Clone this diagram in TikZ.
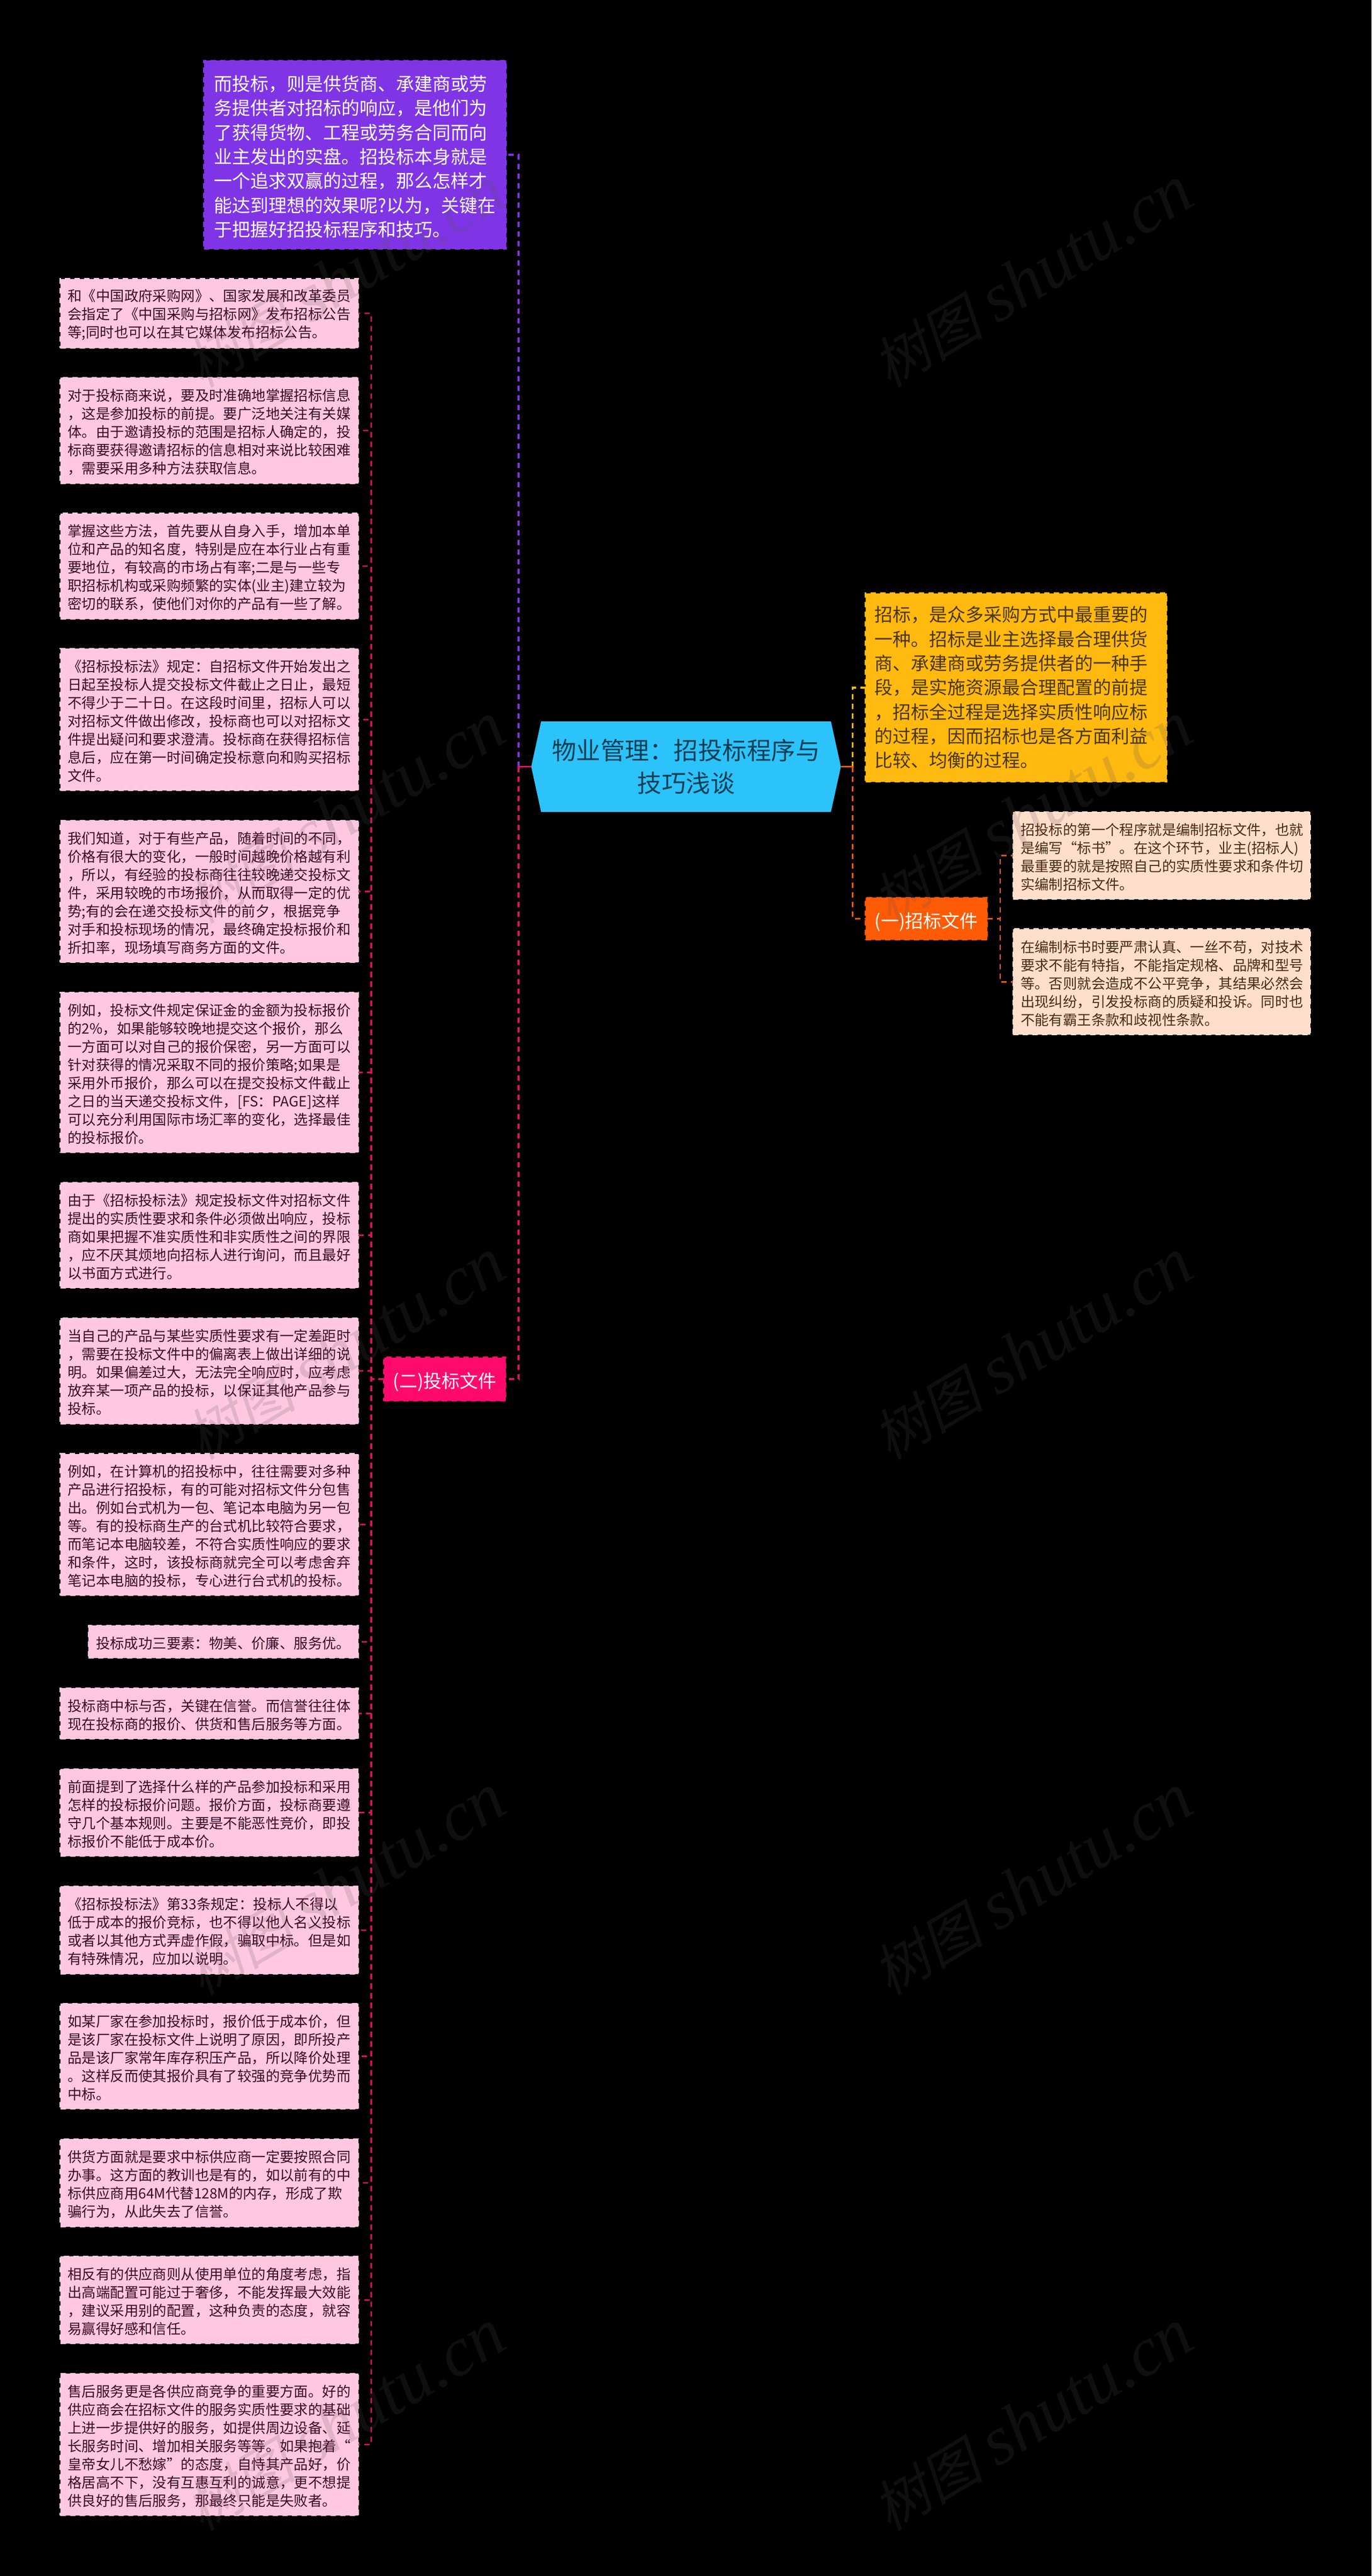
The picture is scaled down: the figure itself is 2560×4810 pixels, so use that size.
\documentclass[tikz,border=0pt]{standalone}
\usepackage{fontspec}
\setmainfont{Noto Sans CJK SC}
\newfontfamily\wmcjk[FakeSlant=0.22]{Noto Sans CJK SC}
\newfontfamily\wmlat{Liberation Serif}[ItalicFont={Liberation Serif Italic}]
\definecolor{cPurple}{HTML}{7F35E6}
\definecolor{cPink}{HTML}{FFC8E0}
\definecolor{cPinkTxt}{HTML}{3D0A24}
\definecolor{cMag}{HTML}{FF0A6C}
\definecolor{cLine}{HTML}{E0125F}
\definecolor{cYel}{HTML}{FFB90F}
\definecolor{cYelTxt}{HTML}{4A3600}
\definecolor{cOra}{HTML}{FF5A05}
\definecolor{cOraL}{HTML}{EE5A12}
\definecolor{cCream}{HTML}{FFDFCC}
\definecolor{cCreamTxt}{HTML}{4D2A14}
\definecolor{cBlue}{HTML}{2CC3FA}
\definecolor{cBlueTxt}{HTML}{0C3F55}
\tikzset{
  x=1pt,y=-1pt,
  box/.style={rectangle,outer sep=0pt,inner ysep=0pt,line width=2.2pt,dash pattern=on 10pt off 8pt,align=left},
  small/.style={box,font=\fontsize{26.4}{34}\selectfont,execute at begin node={\rule{0pt}{28pt}}},
  large/.style={box,font=\fontsize{34}{45.3}\selectfont},
  pinkbox/.style={small,fill=cPink,draw=cPink,text=cPinkTxt},
  creambox/.style={small,fill=cCream,draw=cCream,text=cCreamTxt},
  purplebox/.style={large,fill=cPurple,draw=cPurple,text=white,execute at begin node={\rule{0pt}{36pt}}},
  yellowbox/.style={large,fill=cYel,draw=cYel,text=cYelTxt},
  magbox/.style={large,fill=cMag,draw=cMag,text=white,align=center,execute at begin node={\rule{0pt}{40pt}}},
  orabox/.style={large,fill=cOra,draw=cOra,text=white,align=center,execute at begin node={\rule{0pt}{40pt}}},
  hubtext/.style={rectangle,outer sep=0pt,inner sep=0pt,align=center,text=cBlueTxt,font=\fontsize{45.5}{60.5}\selectfont},
  conn/.style={line width=2.6pt,dash pattern=on 10pt off 8pt},
  bigconn/.style={line width=3.6pt,dash pattern=on 10pt off 8pt},
  hubstub/.style={line width=3.8pt},
  mark text/.style={rotate=31,inner sep=0pt,text=black!67,text opacity=.18},
}
% style, name, left, top, right, bottom, pad, text
\newcommand\BX[8]{%
  \pgfmathsetmacro\cxv{(#3+#5)/2}\pgfmathsetmacro\cyv{(#4+#6)/2}%
  \pgfmathsetmacro\wv{#5-#3}\pgfmathsetmacro\hv{#6-#4}\pgfmathsetmacro\tv{#5-#3-2*#7}%
  \node[#1,minimum width=\wv pt,minimum height=\hv pt,text width=\tv pt,inner xsep=#7 pt] (#2) at (\cxv,\cyv) {#8};%
}
\begin{document}
\begin{tikzpicture}
\fill[black] (0,0) rectangle (2560,4810);
\useasboundingbox (0,0) rectangle (2560,4810);

% hub
\fill[cBlue] (991.6,1431.5) -- (1010,1347) -- (1551,1347) -- (1569.6,1431.5) -- (1551,1516) -- (1010,1516) -- cycle;
\node[hubtext,minimum width=578pt,minimum height=169pt] (hub) at (1280.6,1431.5) {物业管理：招投标程序与\\技巧浅谈};

\BX{purplebox}{intro}{380.5}{112.7}{944.5}{465}{18.5}{而投标，则是供货商、承建商或劳\\务提供者对招标的响应，是他们为\\了获得货物、工程或劳务合同而向\\业主发出的实盘。招投标本身就是\\一个追求双赢的过程，那么怎样才\\能达到理想的效果呢?以为，关键在\\于把握好招投标程序和技巧。}

\BX{pinkbox}{p1}{112.5}{520.5}{669}{649.6}{14}{和《中国政府采购网》、国家发展和改革委员\\会指定了《中国采购与招标网》发布招标公告\\等;同时也可以在其它媒体发布招标公告。}
\BX{pinkbox}{p2}{112.5}{705}{669}{902.7}{14}{对于投标商来说，要及时准确地掌握招标信息\\，这是参加投标的前提。要广泛地关注有关媒\\体。由于邀请投标的范围是招标人确定的，投\\标商要获得邀请招标的信息相对来说比较困难\\，需要采用多种方法获取信息。}
\BX{pinkbox}{p3}{112.5}{958.5}{669}{1155.8}{14}{掌握这些方法，首先要从自身入手，增加本单\\位和产品的知名度，特别是应在本行业占有重\\要地位，有较高的市场占有率;二是与一些专\\职招标机构或采购频繁的实体(业主)建立较为\\密切的联系，使他们对你的产品有一些了解。}
\BX{pinkbox}{p4}{112.5}{1211.4}{669}{1476}{14}{《招标投标法》规定：自招标文件开始发出之\\日起至投标人提交投标文件截止之日止，最短\\不得少于二十日。在这段时间里，招标人可以\\对招标文件做出修改，投标商也可以对招标文\\件提出疑问和要求澄清。投标商在获得招标信\\息后，应在第一时间确定投标意向和购买招标\\文件。}
\BX{pinkbox}{p5}{112.5}{1532}{669}{1797}{14}{我们知道，对于有些产品，随着时间的不同，\\价格有很大的变化，一般时间越晚价格越有利\\，所以，有经验的投标商往往较晚递交投标文\\件，采用较晚的市场报价，从而取得一定的优\\势;有的会在递交投标文件的前夕，根据竞争\\对手和投标现场的情况，最终确定投标报价和\\折扣率，现场填写商务方面的文件。}
\BX{pinkbox}{p6}{112.5}{1853}{669}{2152}{14}{例如，投标文件规定保证金的金额为投标报价\\的2\%，如果能够较晚地提交这个报价，那么\\一方面可以对自己的报价保密，另一方面可以\\针对获得的情况采取不同的报价策略;如果是\\采用外币报价，那么可以在提交投标文件截止\\之日的当天递交投标文件，[FS：PAGE]这样\\可以充分利用国际市场汇率的变化，选择最佳\\的投标报价。}
\BX{pinkbox}{p7}{112.5}{2208}{669}{2405}{14}{由于《招标投标法》规定投标文件对招标文件\\提出的实质性要求和条件必须做出响应，投标\\商如果把握不准实质性和非实质性之间的界限\\，应不厌其烦地向招标人进行询问，而且最好\\以书面方式进行。}
\BX{pinkbox}{p8}{112.5}{2461}{669}{2658.5}{14}{当自己的产品与某些实质性要求有一定差距时\\，需要在投标文件中的偏离表上做出详细的说\\明。如果偏差过大，无法完全响应时，应考虑\\放弃某一项产品的投标，以保证其他产品参与\\投标。}
\BX{pinkbox}{p9}{112.5}{2714.5}{669}{2979}{14}{例如，在计算机的招投标中，往往需要对多种\\产品进行招投标，有的可能对招标文件分包售\\出。例如台式机为一包、笔记本电脑为另一包\\等。有的投标商生产的台式机比较符合要求，\\而笔记本电脑较差，不符合实质性响应的要求\\和条件，这时，该投标商就完全可以考虑舍弃\\笔记本电脑的投标，专心进行台式机的投标。}
\BX{pinkbox}{p10}{165}{3035.4}{669}{3096}{14}{投标成功三要素：物美、价廉、服务优。}
\BX{pinkbox}{p11}{112.5}{3152}{669}{3247}{14}{投标商中标与否，关键在信誉。而信誉往往体\\现在投标商的报价、供货和售后服务等方面。}
\BX{pinkbox}{p12}{112.5}{3303}{669}{3466}{14}{前面提到了选择什么样的产品参加投标和采用\\怎样的投标报价问题。报价方面，投标商要遵\\守几个基本规则。主要是不能恶性竞价，即投\\标报价不能低于成本价。}
\BX{pinkbox}{p13}{112.5}{3522.4}{669}{3685.7}{14}{《招标投标法》第33条规定：投标人不得以\\低于成本的报价竞标，也不得以他人名义投标\\或者以其他方式弄虚作假，骗取中标。但是如\\有特殊情况，应加以说明。}
\BX{pinkbox}{p14}{112.5}{3741}{669}{3938}{14}{如某厂家在参加投标时，报价低于成本价，但\\是该厂家在投标文件上说明了原因，即所投产\\品是该厂家常年库存积压产品，所以降价处理\\。这样反而使其报价具有了较强的竞争优势而\\中标。}
\BX{pinkbox}{p15}{112.5}{3994}{669}{4157.5}{14}{供货方面就是要求中标供应商一定要按照合同\\办事。这方面的教训也是有的，如以前有的中\\标供应商用64M代替128M的内存，形成了欺\\骗行为，从此失去了信誉。}
\BX{pinkbox}{p16}{112.5}{4213}{669}{4376}{14}{相反有的供应商则从使用单位的角度考虑，指\\出高端配置可能过于奢侈，不能发挥最大效能\\，建议采用别的配置，这种负责的态度，就容\\易赢得好感和信任。}
\BX{pinkbox}{p17}{112.5}{4432}{669}{4697}{14}{售后服务更是各供应商竞争的重要方面。好的\\供应商会在招标文件的服务实质性要求的基础\\上进一步提供好的服务，如提供周边设备、延\\长服务时间、增加相关服务等等。如果抱着“\\皇帝女儿不愁嫁”的态度，自恃其产品好，价\\格居高不下，没有互惠互利的诚意，更不想提\\供良好的售后服务，那最终只能是失败者。}

\BX{magbox}{tender}{716.5}{2534.5}{944}{2615.6}{5}{(二)投标文件}
\BX{yellowbox}{bid}{1615.5}{1107.5}{2178}{1460}{17}{招标，是众多采购方式中最重要的\\一种。招标是业主选择最合理供货\\商、承建商或劳务提供者的一种手\\段，是实施资源最合理配置的前提\\，招标全过程是选择实质性响应标\\的过程，因而招标也是各方面利益\\比较、均衡的过程。}
\BX{orabox}{doc}{1615.5}{1676}{1843}{1755}{5}{(一)招标文件}
\BX{creambox}{c1}{1891}{1516}{2446}{1679}{14}{招投标的第一个程序就是编制招标文件，也就\\是编写“标书”。在这个环节，业主(招标人)\\最重要的就是按照自己的实质性要求和条件切\\实编制招标文件。}
\BX{creambox}{c2}{1891}{1734.5}{2446}{1932}{14}{在编制标书时要严肃认真、一丝不苟，对技术\\要求不能有特指，不能指定规格、品牌和型号\\等。否则就会造成不公平竞争，其结果必然会\\出现纠纷，引发投标商的质疑和投诉。同时也\\不能有霸王条款和歧视性条款。}

% junctions
\coordinate (jL) at (968,1431.5);
\coordinate (jR) at (1591.6,1431.5);
\coordinate (jT) at (693,2575);
\coordinate (jD) at (1867,1715.5);

% connectors
\draw[bigconn,cPurple] (jL) |- (intro.east);
\draw[bigconn,cLine] (jL) |- (tender.east);
\draw[hubstub,cLine] (hub.west) -- (jL);
\draw[bigconn,cYel] (jR) |- (bid.west);
\draw[bigconn,cOraL] (jR) |- (doc.west);
\draw[hubstub,cOraL] (hub.east) -- (jR);
\foreach \n in {p1,p2,p3,p4,p5,p6,p7,p8,p9,p10,p11,p12,p13,p14,p15,p16,p17}
  \draw[conn,cLine] (tender.west) -- (jT) |- (\n.east);
\draw[conn,cOraL] (doc.east) -- (jD) |- (c1.west);
\draw[conn,cOraL] (doc.east) -- (jD) |- (c2.west);

% watermarks
\foreach \i/\yy in {1/518,2/1519,3/2520,4/3520,5/4520}{
  \node[mark text] (wmL\i) at (644,\yy) {{\wmcjk\fontsize{104}{110}\selectfont 树图}\hspace{26pt}{\wmlat\itshape\fontsize{130}{130}\selectfont shutu.cn}};
  \node[mark text] (wmR\i) at (1927,\yy) {{\wmcjk\fontsize{104}{110}\selectfont 树图}\hspace{26pt}{\wmlat\itshape\fontsize{130}{130}\selectfont shutu.cn}};
}
\end{tikzpicture}
\end{document}
